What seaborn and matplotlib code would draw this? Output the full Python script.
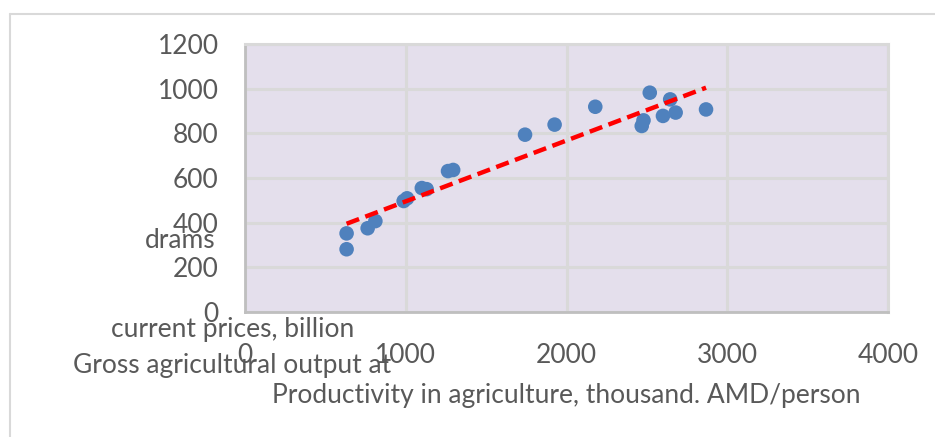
import matplotlib
matplotlib.use("Agg")
import matplotlib.pyplot as plt
from matplotlib.lines import Line2D
import seaborn as sns
import pandas as pd

# Productivity in agriculture (thousand AMD/person) vs gross agricultural output (billion drams)
productivity = [632, 632, 763, 811, 987, 1008, 1100, 1130, 1263, 1295,
                1742, 1926, 2179, 2468, 2479, 2518, 2600, 2645, 2679, 2868]
gross_output = [281, 352, 375, 407, 497, 509, 555, 550, 631, 636,
                794, 839, 919, 833, 858, 982, 878, 952, 893, 907]

x_ticks = [0, 1000, 2000, 3000, 4000]
y_ticks = [0, 200, 400, 600, 800, 1000, 1200]
x_title = "Productivity in agriculture, thousand. AMD/person"
y_title_lines = ["drams", "current prices, billion", "Gross agricultural output at"]

df = pd.DataFrame({"productivity": productivity, "gross_output": gross_output})

sns.set_theme(style="white")
plt.rcParams["font.family"] = ["Lato", "DejaVu Sans"]

W, H = 935, 437
fig = plt.figure(figsize=(W / 100, H / 100), dpi=100)
fig.patch.set_facecolor("white")

def fx(px):
    return px / W

def fy(py):
    return 1 - py / H

ax = fig.add_axes([fx(245), fy(312), fx(888) - fx(245), fy(44) - fy(312)])
ax.set_facecolor("#e4dfec")

text_color = "#595959"
grid_color = "#d9d9d9"
fs = 19

sns.scatterplot(data=df, x="productivity", y="gross_output", ax=ax,
                color="#4f81bd", s=110, edgecolor="none", zorder=3)
sns.regplot(data=df, x="productivity", y="gross_output", ax=ax, scatter=False,
            ci=None, truncate=True, color="#ff0000",
            line_kws={"linestyle": (0, (3.0, 1.5)), "linewidth": 3.2, "zorder": 4})

ax.set_xlim(0, 4000)
ax.set_ylim(0, 1200)
ax.set_xticks(x_ticks)
ax.set_yticks(y_ticks)
ax.set_xticklabels([str(t) for t in x_ticks])
ax.set_yticklabels([str(t) for t in y_ticks])
ax.grid(True, color=grid_color, linewidth=2.2)
ax.set_axisbelow(True)

for side in ("top", "right"):
    ax.spines[side].set_color(grid_color)
    ax.spines[side].set_linewidth(2.2)
for side in ("left", "bottom"):
    ax.spines[side].set_color("#bfbfbf")
    ax.spines[side].set_linewidth(2.0)

ax.tick_params(axis="x", length=0, pad=22, labelsize=fs, labelcolor=text_color)
ax.tick_params(axis="y", length=0, pad=19, labelsize=fs, labelcolor=text_color)

ax.set_xlabel("")
ax.set_ylabel("")
fig.text(fx(566), fy(396), x_title, ha="center", va="center",
         fontsize=fs, color=text_color)

# Value-axis title lines
fig.text(fx(180), fy(240), y_title_lines[0], ha="center", va="center",
         fontsize=fs, color=text_color)
fig.text(fx(233), fy(330), y_title_lines[1], ha="center", va="center",
         fontsize=fs, color=text_color)
fig.text(fx(232), fy(365), y_title_lines[2], ha="center", va="center",
         fontsize=fs, color=text_color)

# Chart frame (top and left edges)
fig.add_artist(Line2D([fx(10), 1.0], [fy(14), fy(14)], transform=fig.transFigure,
                      color=grid_color, linewidth=1.5))
fig.add_artist(Line2D([fx(10), fx(10)], [fy(14), 0.0], transform=fig.transFigure,
                      color=grid_color, linewidth=1.5))

fig.savefig("out.png", dpi=100)
